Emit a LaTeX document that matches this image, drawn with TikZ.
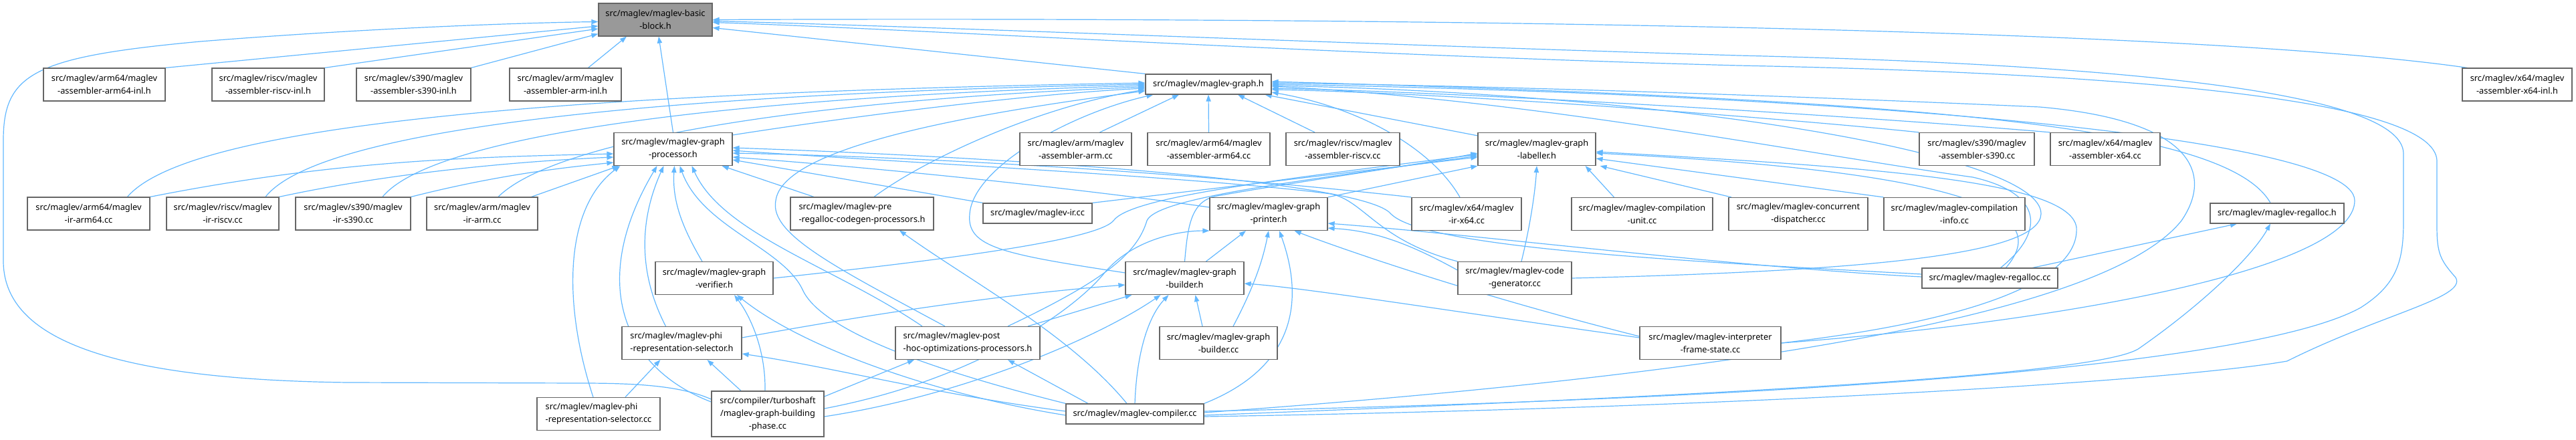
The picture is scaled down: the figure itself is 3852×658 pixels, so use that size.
\documentclass[tikz,border=0pt]{standalone}
\usepackage{fontspec}
\setmainfont{Noto Sans}
\usetikzlibrary{arrows.meta, backgrounds}
\definecolor{edgeblue}{HTML}{63B8FF}
\definecolor{boxline}{HTML}{666666}
\definecolor{rootfill}{HTML}{999999}
\tikzset{
  file/.style={draw=boxline, fill=white, line width=0.6pt, inner sep=1pt, align=center,
    minimum height=24.5pt, font=\fontsize{6.4}{9.5}\selectfont},
  rootfile/.style={file, fill=rootfill},
  oneline/.style={minimum height=15pt},
  leftfile/.style={file, align=left},
  edge/.style={draw=edgeblue, line width=0.6pt, -{Triangle[length=5pt,width=3.6pt]}},
}

\begin{document}
\begin{tikzpicture}[x=0.5pt, y=-0.5pt]
\useasboundingbox (0,0) rectangle (3852,658);

% row 0
\node[rootfile, minimum width=85pt] (bb) at (980,29.5) {src/maglev/maglev-basic\\-block.h};
% row 1
\node[file, minimum width=91pt] (a64inl) at (156,126.5) {src/maglev/arm64/maglev\\-assembler-arm64-inl.h};
\node[file, minimum width=84pt] (rvinl) at (401,126.5) {src/maglev/riscv/maglev\\-assembler-riscv-inl.h};
\node[file, minimum width=85.5pt] (s390inl) at (618.5,126.5) {src/maglev/s390/maglev\\-assembler-s390-inl.h};
\node[file, minimum width=83.5pt] (arminl) at (845.5,126.5) {src/maglev/arm/maglev\\-assembler-arm-inl.h};
\node[file, oneline, minimum width=94pt] (graph) at (1807,126) {src/maglev/maglev-graph.h};
\node[file, minimum width=82pt] (x64inl) at (3764,126.5) {src/maglev/x64/maglev\\-assembler-x64-inl.h};
% row 2
\node[file, minimum width=88.5pt] (proc) at (1006.5,223) {src/maglev/maglev-graph\\-processor.h};
\node[file, minimum width=83.5pt] (asmarm) at (1608.5,223) {src/maglev/arm/maglev\\-assembler-arm.cc};
\node[file, minimum width=91.5pt] (asma64) at (1807.5,223) {src/maglev/arm64/maglev\\-assembler-arm64.cc};
\node[file, minimum width=85pt] (asmrv) at (2008,223) {src/maglev/riscv/maglev\\-assembler-riscv.cc};
\node[file, minimum width=88pt] (labeller) at (2298,223) {src/maglev/maglev-graph\\-labeller.h};
\node[file, minimum width=86pt] (asms390) at (2956,223) {src/maglev/s390/maglev\\-assembler-s390.cc};
\node[file, minimum width=82pt] (asmx64) at (3148,223) {src/maglev/x64/maglev\\-assembler-x64.cc};
% row 3
\node[file, minimum width=91.5pt] (ira64) at (132.5,319.5) {src/maglev/arm64/maglev\\-ir-arm64.cc};
\node[file, minimum width=84pt] (irrv) at (333,319.5) {src/maglev/riscv/maglev\\-ir-riscv.cc};
\node[file, minimum width=86pt] (irs390) at (528,319.5) {src/maglev/s390/maglev\\-ir-s390.cc};
\node[file, minimum width=83pt] (irarm) at (721,319.5) {src/maglev/arm/maglev\\-ir-arm.cc};
\node[leftfile, minimum width=107pt] (prereg) at (1289,319.5) {src/maglev/maglev-pre\\-regalloc-codegen-processors.h};
\node[file, oneline, minimum width=81.5pt] (ir) at (1551.5,319) {src/maglev/maglev-ir.cc};
\node[file, minimum width=88pt] (printer) at (1897,320) {src/maglev/maglev-graph\\-printer.h};
\node[file, minimum width=82pt] (irx64) at (2193,320) {src/maglev/x64/maglev\\-ir-x64.cc};
\node[file, minimum width=105.5pt] (compunit) at (2455.5,320) {src/maglev/maglev-compilation\\-unit.cc};
\node[file, minimum width=104pt] (concdisp) at (2689,320) {src/maglev/maglev-concurrent\\-dispatcher.cc};
\node[file, minimum width=105.5pt] (compinfo) at (2922.5,320) {src/maglev/maglev-compilation\\-info.cc};
\node[file, oneline, minimum width=100pt] (regallocH) at (3405,319) {src/maglev/maglev-regalloc.h};
% row 4
\node[file, minimum width=88pt] (verifier) at (1068,416) {src/maglev/maglev-graph\\-verifier.h};
\node[file, minimum width=88.5pt] (builderH) at (1771.5,416) {src/maglev/maglev-graph\\-builder.h};
\node[file, minimum width=85pt] (codegen) at (2265,416) {src/maglev/maglev-code\\-generator.cc};
\node[file, oneline, minimum width=101.5pt] (regallocCC) at (2975.5,416) {src/maglev/maglev-regalloc.cc};
% row 5
\node[leftfile, minimum width=89.5pt] (phiH) at (1019.5,513) {src/maglev/maglev-phi\\-representation-selector.h};
\node[leftfile, minimum width=108pt] (posthoc) at (1447,513) {src/maglev/maglev-post\\-hoc-optimizations-processors.h};
\node[file, minimum width=88pt] (builderCC) at (1822,513) {src/maglev/maglev-graph\\-builder.cc};
\node[file, minimum width=105.5pt] (ifs) at (2557.5,513) {src/maglev/maglev-interpreter\\-frame-state.cc};
% row 6
\node[leftfile, minimum width=92pt] (phiCC) at (895,619) {src/maglev/maglev-phi\\-representation-selector.cc};
\node[file, minimum width=84pt, minimum height=34pt] (tsphase) at (1148,619) {src/compiler/turboshaft\\/maglev-graph-building\\-phase.cc};
\node[file, oneline, minimum width=103pt] (compiler) at (1697,619) {src/maglev/maglev-compiler.cc};

\begin{scope}[on background layer]
% into maglev-basic-block.h
\draw[edge] (a64inl.north east) -- ([yshift=-4.75pt]bb.west);
\draw[edge] (rvinl.north east) -- ([yshift=-6.75pt]bb.west);
\draw[edge] (s390inl.north east) -- ([yshift=2pt]bb.south west);
\draw[edge] ([xshift=17pt]arminl.north) -- ([xshift=-21.5pt]bb.south);
\draw[edge] (proc.north) -- ([xshift=2.5pt]bb.south);
\draw[edge] (graph.north west) -- ([yshift=-6pt]bb.east);
\draw[edge] ([xshift=4pt]x64inl.north west) .. controls (3300,45) and (2200,25) .. (bb.east);
\draw[edge] ([yshift=11pt]tsphase.west) .. controls (1020,578) and (960,573) .. (870,573) -- (520,572)
  .. controls (120,567) and (5,490) .. (5,390) -- (5,210) .. controls (5,110) and (50,85) .. (300,62)
  .. controls (550,42) and (780,34) .. ([yshift=-1.5pt]bb.west);
\draw[edge] ([yshift=2pt]compiler.east) .. controls (2500,600) and (3350,560) .. (3530,460)
  .. controls (3585,425) and (3594,390) .. (3594,330) -- (3594,230)
  .. controls (3594,130) and (3100,95) .. (2600,83) .. controls (2000,65) and (1400,40) .. ([yshift=-1pt]bb.east);
\draw[edge] ([yshift=-2pt]compiler.east) .. controls (2600,610) and (3250,570) .. (3420,540)
  .. controls (3560,470) and (3690,445) .. (3672,415) .. controls (3650,390) and (3644,380) .. (3644,340) -- (3644,240)
  .. controls (3640,150) and (3200,110) .. (2600,98) .. controls (2000,82) and (1400,45) .. ([yshift=-2pt]bb.east);

% into maglev-graph.h
\draw[edge] ([xshift=29pt]ira64.north) .. controls (280,190) and (800,140) .. ([yshift=1pt]graph.west);
\draw[edge] ([xshift=32pt]irrv.north) .. controls (480,190) and (1000,140) .. (graph.west);
\draw[edge] ([xshift=22pt]irs390.north) .. controls (650,200) and (1100,145) .. ([yshift=-1pt]graph.west);
\draw[edge] ([xshift=12pt]irarm.north) .. controls (830,210) and (1200,150) .. ([yshift=-2pt]graph.west);
\draw[edge] ([yshift=-2pt]proc.north east) .. controls (1300,170) and (1550,140) .. ([yshift=-3pt]graph.west);
\draw[edge] ([xshift=9pt]prereg.north) .. controls (1380,240) and (1550,160) .. ([yshift=-4pt]graph.west);
\draw[edge] ([xshift=-17pt]posthoc.north) .. controls (1250,400) and (1150,350) .. (1160,300)
  .. controls (1170,220) and (1450,170) .. ([yshift=-5pt]graph.west);
\draw[edge] ([yshift=4pt]builderH.west) .. controls (1500,380) and (1445,370) .. (1450,320)
  .. controls (1455,250) and (1600,170) .. ([xshift=6pt]graph.south west);
\draw[edge] ([xshift=18pt]asmarm.north) -- ([xshift=-22pt]graph.south);
\draw[edge] (asma64.north) -- (graph.south);
\draw[edge] ([xshift=-21pt]asmrv.north) -- ([xshift=22pt]graph.south);
\draw[edge] ([yshift=-2.5pt]labeller.north west) -- ([xshift=-5pt]graph.south east);
\draw[edge] ([xshift=-5pt]irx64.north) .. controls (2140,220) and (2030,160) .. ([yshift=-6pt]graph.east);
\draw[edge] (asms390.north west) .. controls (2700,180) and (2200,140) .. ([yshift=-4pt]graph.east);
\draw[edge] (asmx64.north west) .. controls (2800,175) and (2200,138) .. ([yshift=-3pt]graph.east);
\draw[edge] (codegen.east) .. controls (2800,405) and (3050,380) .. (3052,320)
  .. controls (3054,230) and (2500,140) .. ([yshift=-1pt]graph.east);
\draw[edge] ([xshift=8pt]regallocCC.north) .. controls (3055,350) and (3060,290) .. (2950,265)
  .. controls (2700,230) and (2300,150) .. ([yshift=-1.5pt]graph.east);
\draw[edge] ([xshift=-5pt]regallocH.north) .. controls (3330,190) and (2900,150) .. ([yshift=2pt]graph.east);
\draw[edge] (ifs.east) .. controls (3100,480) and (3521,400) .. (3521,300)
  .. controls (3521,200) and (2700,140) .. (graph.east);
\draw[edge] ([yshift=1pt]compiler.east) .. controls (2600,560) and (3150,470) .. (3262,330)
  .. controls (3310,260) and (3280,180) .. (3050,160) .. controls (2600,140) and (2200,128) .. ([yshift=1pt]graph.east);

% into maglev-graph-processor.h
\draw[edge] (ira64.north east) .. controls (500,240) and (700,235) .. ([yshift=-3.5pt]proc.west);
\draw[edge] (irrv.north east) .. controls (600,255) and (800,240) .. ([yshift=-6pt]proc.west);
\draw[edge] (irs390.north east) .. controls (750,260) and (850,250) .. ([yshift=-10pt]proc.west);
\draw[edge] ([xshift=-5pt]irarm.north east) -- ([xshift=4pt]proc.south west);
\draw[edge] ([xshift=-4pt]phiCC.north) .. controls (840,450) and (845,310) .. ([xshift=5pt]proc.south west);
\draw[edge] ([yshift=9pt]tsphase.west) .. controls (930,550) and (880,420) .. ([xshift=-12pt]proc.south);
\draw[edge] ([xshift=-12pt]phiH.north) .. controls (950,400) and (960,320) .. ([xshift=-7pt]proc.south);
\draw[edge] ([xshift=-9pt]verifier.north) .. controls (1020,340) and (1005,300) .. ([xshift=1pt]proc.south);
\draw[edge] (compiler.north west) .. controls (1420,560) and (1230,500) .. (1200,433)
  .. controls (1170,370) and (1050,340) .. ([xshift=5pt]proc.south);
\draw[edge] ([xshift=-34pt]posthoc.north) .. controls (1250,400) and (1080,350) .. ([xshift=14pt]proc.south);
\draw[edge] ([xshift=-36pt]prereg.north) -- ([xshift=-8pt]proc.south east);
\draw[edge] (ir.north west) -- ([yshift=-8pt]proc.east);
\draw[edge] (irx64.north west) .. controls (1800,260) and (1400,235) .. ([yshift=-3pt]proc.east);
\draw[edge] ([yshift=5pt]printer.west) .. controls (1600,280) and (1300,250) .. ([yshift=-6pt]proc.east);
\draw[edge] (codegen.north west) .. controls (2060,360) and (2040,300) .. (1990,290)
  .. controls (1800,265) and (1300,240) .. ([yshift=-1pt]proc.east);
\draw[edge] ([yshift=3pt]regallocCC.west) .. controls (2500,390) and (2130,370) .. (2080,320)
  .. controls (2040,270) and (1500,235) .. ([yshift=1pt]proc.east);

% into maglev-graph-labeller.h
\draw[edge] (ir.north east) -- ([yshift=-6pt]labeller.west);
\draw[edge] (printer.north east) -- (labeller.south west);
\draw[edge] (verifier.east) .. controls (1400,390) and (1640,360) .. (1665,330)
  .. controls (1690,295) and (1900,270) .. ([yshift=-4pt]labeller.west);
\draw[edge] ([xshift=30pt]posthoc.north) .. controls (1650,420) and (1700,380) .. (1715,330)
  .. controls (1730,295) and (1950,270) .. ([yshift=-5pt]labeller.west);
\draw[edge] (builderH.north) .. controls (1776,340) and (1780,300) .. (1820,293)
  .. controls (1950,270) and (2100,250) .. ([yshift=-3pt]labeller.west);
\draw[edge] ([xshift=5pt]codegen.north) .. controls (2290,330) and (2296,280) .. (labeller.south);
\draw[edge] ([xshift=-21pt]compunit.north) -- ([xshift=-8pt]labeller.south east);
\draw[edge] ([xshift=-50pt]concdisp.north) -- ([xshift=3pt]labeller.south east);
\draw[edge] (compinfo.north west) -- ([yshift=-7pt]labeller.east);
\draw[edge] ([xshift=12pt]regallocCC.north) .. controls (3060,330) and (3000,260) .. ([yshift=-3pt]labeller.east);
\draw[edge] (ifs.east) .. controls (2950,480) and (3110,420) .. (3105,340)
  .. controls (3095,270) and (2800,250) .. ([yshift=-2pt]labeller.east);

% into maglev-graph-printer.h
\draw[edge] ([xshift=16pt]builderH.north) -- ([xshift=-17pt]printer.south);
\draw[edge] ([xshift=11pt]builderCC.north) .. controls (1880,420) and (1890,380) .. (printer.south);
\draw[edge] (compiler.north east) .. controls (1960,540) and (1940,420) .. ([xshift=8pt]printer.south);
\draw[edge] ([yshift=4pt]tsphase.east) .. controls (1450,570) and (1600,470) .. (1650,410)
  .. controls (1690,360) and (1760,345) .. (printer.south west);
\draw[edge] ([yshift=6pt]codegen.west) .. controls (2100,360) and (2050,345) .. ([yshift=2pt]printer.south east);
\draw[edge] ([yshift=1pt]regallocCC.west) .. controls (2600,400) and (2200,350) .. ([yshift=-7pt]printer.east);
\draw[edge] ([yshift=5pt]ifs.west) .. controls (2200,440) and (2000,370) .. ([xshift=-25pt]printer.south east);

% into maglev-graph-builder.h
\draw[edge] ([yshift=4pt]phiH.east) .. controls (1300,470) and (1500,440) .. ([yshift=-5pt]builderH.west);
\draw[edge] ([xshift=45pt]posthoc.north) -- ([xshift=5pt]builderH.south west);
\draw[edge] ([xshift=-12pt]builderCC.north) -- ([xshift=8pt]builderH.south);
\draw[edge] (compiler.north) .. controls (1700,520) and (1720,470) .. ([xshift=-12pt]builderH.south);
\draw[edge] ([yshift=-2pt]tsphase.east) .. controls (1450,590) and (1650,500) .. ([xshift=-18pt]builderH.south);
\draw[edge] ([yshift=4pt]ifs.west) .. controls (2200,470) and (1950,430) .. ([yshift=-4pt]builderH.east);

% remaining headers
\draw[edge] ([xshift=-2pt]tsphase.north) .. controls (1145,520) and (1120,470) .. ([xshift=15pt]verifier.south);
\draw[edge] ([yshift=-1pt]compiler.west) .. controls (1400,590) and (1200,520) .. ([xshift=17pt]verifier.south);
\draw[edge] ([xshift=20pt]phiCC.north) -- ([xshift=-16pt]phiH.south);
\draw[edge] ([xshift=-20pt]tsphase.north) -- ([xshift=19pt]phiH.south);
\draw[edge] ([yshift=2pt]compiler.west) .. controls (1400,590) and (1250,550) .. ([yshift=-8pt]phiH.east);
\draw[edge] ([yshift=13pt]tsphase.east) -- ([xshift=-40pt]posthoc.south);
\draw[edge] ([xshift=-35pt]compiler.north) -- ([xshift=30pt]posthoc.south);
\draw[edge] ([xshift=-6pt]compiler.north) .. controls (1600,500) and (1450,420) .. ([xshift=28pt]prereg.south);
\draw[edge] ([xshift=32pt]regallocCC.north) -- ([xshift=-30pt]regallocH.south);
\draw[edge] ([yshift=-1pt]compiler.east) .. controls (2600,590) and (3150,560) .. (3200,520)
  .. controls (3300,450) and (3370,380) .. ([xshift=-5pt]regallocH.south);
\end{scope}
\end{tikzpicture}
\end{document}
